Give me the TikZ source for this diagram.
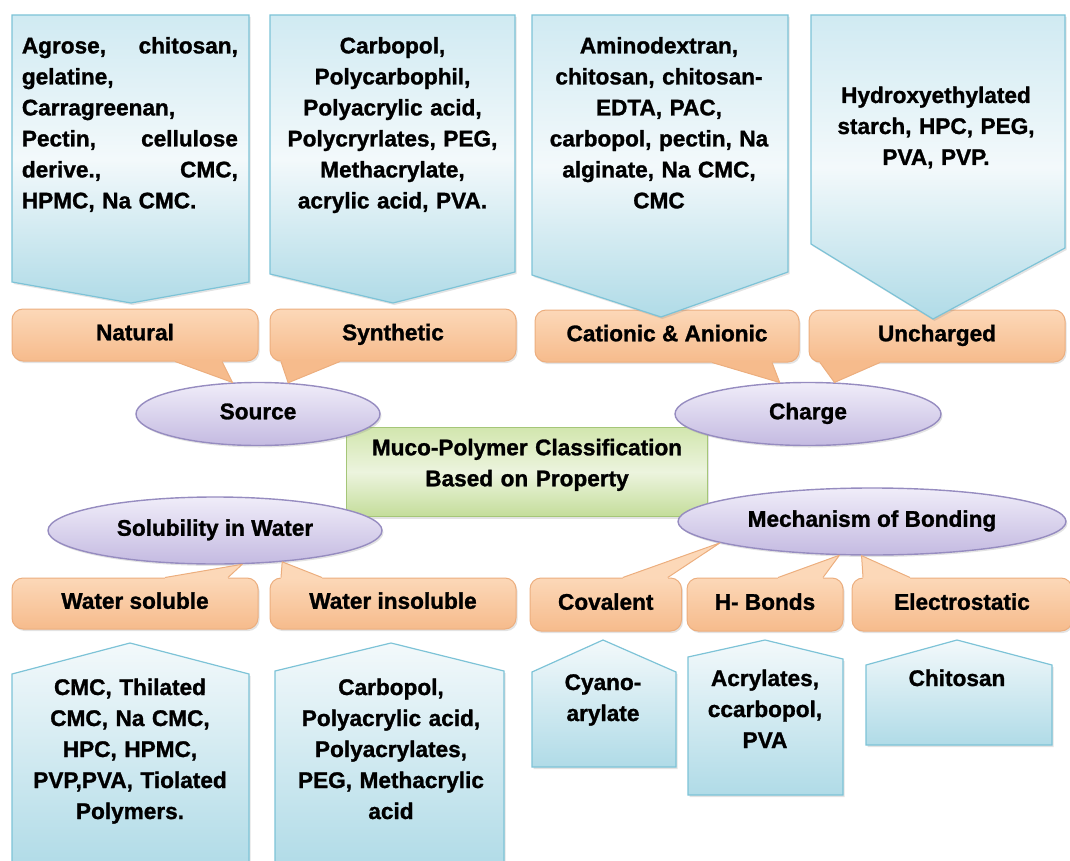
\documentclass[tikz,border=0pt]{standalone}
\usepackage{fontspec}
\setmainfont{Liberation Sans}[BoldFeatures={FakeBold=1.2}]
\usetikzlibrary{shapes.geometric,shadows,calc}
\definecolor{boxline}{RGB}{125,195,215}
\definecolor{boxtop}{RGB}{208,234,242}
\definecolor{boxmid}{RGB}{243,249,251}
\definecolor{boxbot}{RGB}{176,219,231}
\definecolor{callline}{RGB}{236,174,126}
\definecolor{calltop}{RGB}{252,216,184}
\definecolor{callbot}{RGB}{246,187,140}
\definecolor{ellline}{RGB}{150,140,192}
\definecolor{elltop}{RGB}{240,237,249}
\definecolor{ellbot}{RGB}{196,186,225}
\definecolor{grnline}{RGB}{165,198,120}
\definecolor{grntop}{RGB}{210,230,174}
\definecolor{grnmid}{RGB}{236,244,222}
\definecolor{grnbot}{RGB}{196,221,154}
\newcommand\calltail[6]{%
  \fill[tail#2] ([xshift=#3,yshift=#6]#1.#2) -- ([xshift=#3]#1.#2) -- #5 -- ([xshift=#4]#1.#2) -- ([xshift=#4,yshift=#6]#1.#2) -- cycle;
  \draw[tailedge] ([xshift=#3]#1.#2) -- #5 -- ([xshift=#4]#1.#2);}
\newcommand\jline[2]{\makebox[216pt]{#1\hfill#2}}
\tikzset{
  lbl/.style={font=\fontsize{22.6}{31}\selectfont\bfseries, inner sep=0pt},
  shd/.style={drop shadow={shadow xshift=1.5pt, shadow yshift=-2pt, opacity=0.22, fill=black!50}},
  boxdown/.style={draw=boxline, line width=1.2pt, top color=boxtop, bottom color=boxbot, middle color=boxmid, shd},
  boxup/.style={draw=boxline, line width=1.2pt, top color=boxmid, bottom color=boxbot, shd},
  callout/.style={lbl, rectangle, rounded corners=11pt, draw=callline, line width=1pt, top color=calltop, bottom color=callbot, minimum height=52pt, text height=10.5pt, text depth=0pt, shd},
  tailsouth/.style={fill=callbot},
  tailnorth/.style={fill=calltop},
  tailedge/.style={draw=callline, line width=1pt, line join=round},
  oval/.style={lbl, ellipse, draw=ellline, line width=1.4pt, top color=elltop, bottom color=ellbot, text height=10.5pt, text depth=0pt, shd},
  btext/.style={lbl, anchor=base, align=center}
}
\begin{document}
\begin{tikzpicture}[x=1pt,y=-1pt]
\useasboundingbox (0,0) rectangle (1070,861);
\clip (0,0) rectangle (1070,861);

% centre box
\node[lbl, draw=grnline, line width=1.2pt, top color=grntop, bottom color=grnbot, middle color=grnmid, shd,
      minimum width=361pt, minimum height=89pt, text width=340pt, align=center, text height=16.5pt, text depth=50pt]
      (title) at (527,472) {Muco-Polymer Classification\\Based on Property};

% ellipses
\node[oval, minimum width=244pt, minimum height=63pt] (src) at (258,414) {Source};
\node[oval, minimum width=266pt, minimum height=63pt] (chg) at (808,414) {Charge};
\node[oval, minimum width=334pt, minimum height=67pt] (sol) at (215,530.5) {Solubility in Water};
\node[oval, minimum width=388pt, minimum height=67pt] (mech) at (872,521.5) {Mechanism of Bonding};

% callouts (top)
\node[callout, minimum width=246pt] (nat) at (135,335) {Natural};
\node[callout, minimum width=246pt] (syn) at (393,335) {Synthetic};
\node[callout, minimum width=264pt] (cat) at (667,336) {Cationic \& Anionic};
\node[callout, minimum width=256pt] (unc) at (937,336) {Uncharged};
\calltail{nat}{south}{40pt}{87pt}{(src.129)}{2pt}
\calltail{syn}{south}{-112pt}{-53pt}{(src.46)}{2pt}
\calltail{cat}{south}{45pt}{105pt}{(chg.132)}{2pt}
\calltail{unc}{south}{-117pt}{-57pt}{(chg.50)}{2pt}

% callouts (bottom)
\node[callout, minimum width=246pt, minimum height=51pt] (wsol) at (135,603.5) {Water soluble};
\node[callout, minimum width=246pt, minimum height=51pt] (wins) at (393,603.5) {Water insoluble};
\node[callout, minimum width=151.5pt, minimum height=53pt] (cov) at (605.75,604.5) {Covalent};
\node[callout, minimum width=156pt, minimum height=53pt] (hb) at (765,604.5) {H- Bonds};
\node[callout, minimum width=220pt, minimum height=53pt] (ele) at (962,604.5) {Electrostatic};
\calltail{wsol}{north}{30pt}{93pt}{(sol.-51)}{-2pt}
\calltail{wins}{north}{-112pt}{-71pt}{(sol.-25)}{-2pt}
\calltail{cov}{north}{17pt}{62pt}{(mech.188)}{-2pt}
\calltail{hb}{north}{13pt}{58pt}{(mech.-134)}{-2pt}
\calltail{ele}{north}{-99pt}{-52pt}{(mech.-107)}{-2pt}

% top boxes
\path[boxdown] (12,15) -- (249,15) -- (249,282) -- (131,303) -- (12,282) -- cycle;
\path[boxdown] (270,15) -- (515,15) -- (515,272) -- (393,303) -- (270,274) -- cycle;
\path[boxdown] (532,15) -- (788,15) -- (788,272) -- (661,317) -- (532,275) -- cycle;
\path[boxdown] (811,15) -- (1065,15) -- (1065,248) -- (933,319) -- (811,244) -- cycle;

\node[lbl, anchor=base west, text width=216pt, align=left] (t1) at (21.7,53.4)
  {\jline{Agrose,}{chitosan,}\\gelatine,\\Carragreenan,\\\jline{Pectin,}{cellulose}\\\jline{derive.,}{CMC,}\\HPMC, Na CMC.};
\node[btext, text width=236pt] (t2) at (392.5,53.4)
  {Carbopol,\\Polycarbophil,\\Polyacrylic acid,\\Polycryrlates, PEG,\\Methacrylate,\\acrylic acid, PVA.};
\node[btext, text width=250pt] (t3) at (659,53.4)
  {Aminodextran,\\chitosan, chitosan-\\EDTA, PAC,\\carbopol, pectin, Na\\alginate, Na CMC,\\CMC};
\node[btext, text width=246pt] (t4) at (936,103)
  {Hydroxyethylated\\starch, HPC, PEG,\\PVA, PVP.};

% bottom boxes
\path[boxup] (12,868) -- (12,674) -- (130,643) -- (249,674) -- (249,868) -- cycle;
\path[boxup] (275,868) -- (275,671) -- (391,643) -- (504,671) -- (504,868) -- cycle;
\path[boxup] (532,767) -- (532,672) -- (603,640) -- (676,672) -- (676,767) -- cycle;
\path[boxup] (688,795) -- (688,657) -- (765,640) -- (843,659) -- (843,795) -- cycle;
\path[boxup] (866,745) -- (866,665) -- (957,640) -- (1052,665) -- (1052,745) -- cycle;

\node[btext, text width=232pt] (ta) at (130,695)
  {CMC, Thilated\\CMC, Na CMC,\\HPC, HPMC,\\PVP,PVA, Tiolated\\Polymers.};
\node[btext, text width=226pt] (tb) at (391,695)
  {Carbopol,\\Polyacrylic acid,\\Polyacrylates,\\PEG, Methacrylic\\acid};
\node[btext, text width=140pt] (tc) at (603,690) {Cyano-\\arylate};
\node[btext, text width=150pt] (td) at (765,686) {Acrylates,\\ccarbopol,\\PVA};
\node[btext, text width=180pt] (te) at (957,686) {Chitosan};
\end{tikzpicture}
\end{document}
